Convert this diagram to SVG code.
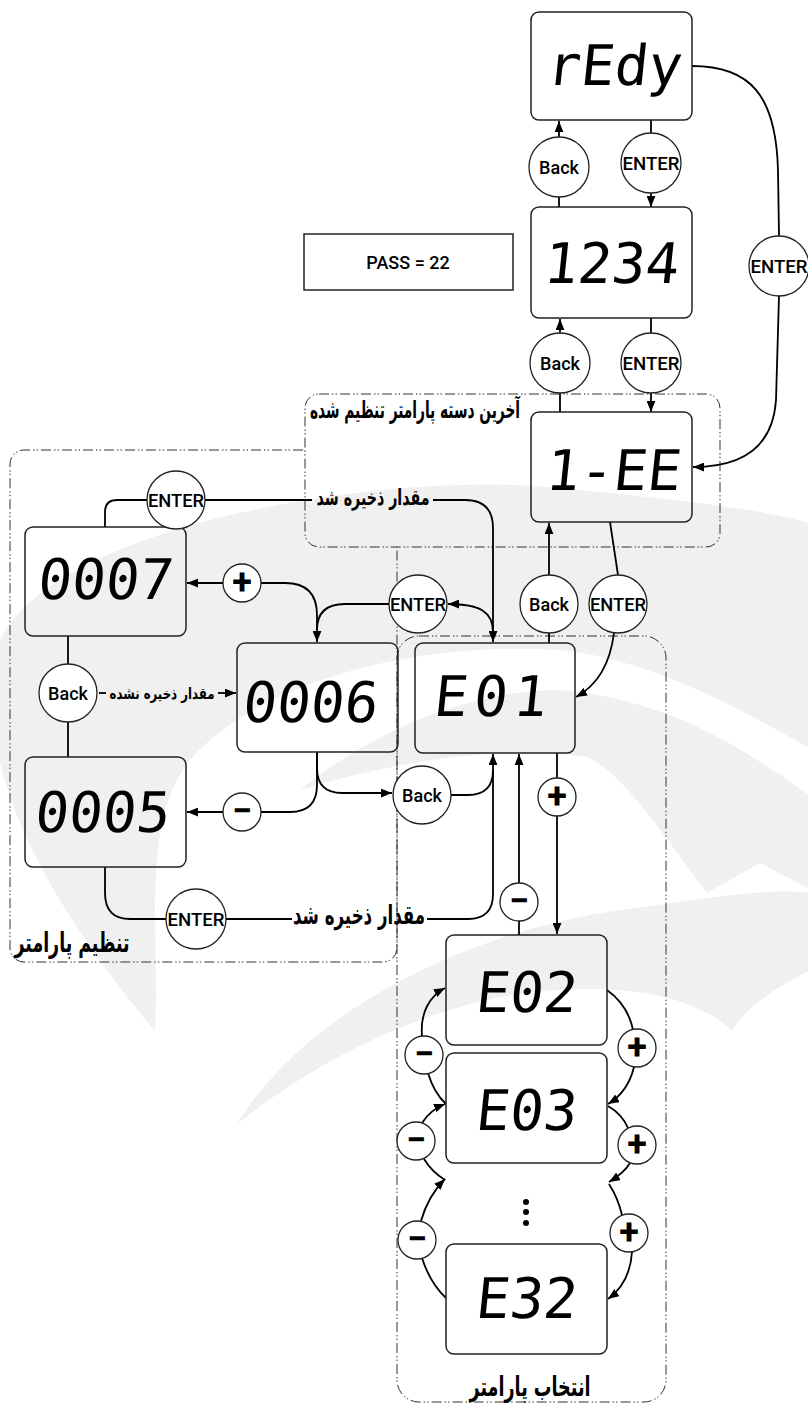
<svg xmlns="http://www.w3.org/2000/svg" width="808" height="1405" viewBox="0 0 808 1405">
<defs>
<style>
.box{fill:none;stroke:#222;stroke-width:1.5}
.btn{fill:#fff;stroke:#222;stroke-width:1.3}
.seg{font-family:"DejaVu Sans Mono",monospace;font-size:56px;fill:#000;text-anchor:middle}
.lbl{font-family:Roboto,"Liberation Sans",sans-serif;font-size:18px;font-weight:500;fill:#000;text-anchor:middle;dominant-baseline:central}
.pm{font-family:Roboto,"Liberation Sans",sans-serif;font-size:36px;font-weight:bold;fill:#000;text-anchor:middle;dominant-baseline:central}
.fa{font-family:"DejaVu Sans",sans-serif;font-weight:bold;fill:#000;text-anchor:middle}
.grp{fill:none;stroke:#333;stroke-width:1;stroke-dasharray:10 3 1.5 2 1.5 3}
.c{fill:none;stroke:#000;stroke-width:1.8}
.wm{fill:#f0f0f0}
</style>
<marker id="a" viewBox="0 0 10 8" refX="10" refY="4" markerWidth="11" markerHeight="9" markerUnits="userSpaceOnUse" orient="auto"><path d="M0,0 L10,4 L0,8 z" fill="#000"/></marker>
</defs>
<rect width="808" height="1405" fill="#fff"/>
<g id="watermark" class="wm">
<path d="M155 1031 C 80 940, -40 780, 0 640 C 60 520, 400 470, 560 488 C 680 500, 780 510, 830 530 L 830 760 C 760 720, 660 660, 560 650 C 400 640, 250 690, 190 760 C 140 820, 160 940, 155 1031 Z"/>
<path d="M300 790 C 400 710, 500 690, 560 690 C 680 700, 760 760, 830 810 L 830 900 L 760 863 L 707 893 C 660 830, 620 770, 587 757 C 500 745, 400 760, 300 790 Z"/>
<path d="M237 1124 C 300 1020, 450 935, 620 910 C 700 900, 800 880, 830 900 L 830 960 C 790 980, 750 1000, 732 1031 C 700 1000, 640 985, 560 990 C 450 995, 330 1050, 237 1124 Z"/>
</g>
<g id="groups">
<rect id="grp-last" class="grp" x="305" y="394" width="415" height="153" rx="14"/>
<text class="fa" x="415" y="418" font-size="24" textLength="210" lengthAdjust="spacingAndGlyphs">آخرین دسته پارامتر تنظیم شده</text>
<path id="grp-set" class="grp" d="M303 450 H24 A14 14 0 0 0 10 464 V948 A14 14 0 0 0 24 962 H383 A14 14 0 0 0 397 948 V547"/>
<text class="fa" x="72" y="952" font-size="27" textLength="115" lengthAdjust="spacingAndGlyphs">تنظیم پارامتر</text>
<rect id="grp-sel" class="grp" x="397" y="636" width="269" height="766" rx="22"/>
<text class="fa" x="530" y="1396" font-size="27" textLength="121" lengthAdjust="spacingAndGlyphs">انتخاب پارامتر</text>
</g>
<g id="connectors">
<path class="c" d="M559 137 V121" marker-end="url(#a)"/>
<path class="c" d="M559 197 V207"/>
<path class="c" d="M651 120 V133"/>
<path class="c" d="M651 193 V207" marker-end="url(#a)"/>
<path class="c" d="M560 333 V319" marker-end="url(#a)"/>
<path class="c" d="M560 393 V412"/>
<path class="c" d="M651 318 V333"/>
<path class="c" d="M651 393 V412" marker-end="url(#a)"/>
<path class="c" d="M692 66 C 750 66, 776 95, 778 170 L 779 236"/>
<path class="c" d="M779 296 L 776 400 C 773 445, 745 467, 693 467" marker-end="url(#a)"/>
<path class="c" d="M549 575 V523" marker-end="url(#a)"/>
<path class="c" d="M549 633 V643"/>
<path class="c" d="M610 522 Q 614 548, 618 575"/>
<path class="c" d="M614 633 C 610 665, 596 686, 576 697" marker-end="url(#a)"/>
<path class="c" d="M105 527 V512 Q105 500 117 500 H147"/>
<path class="c" d="M205 500 H312"/>
<path class="c" d="M433 500 H465 Q493 500 493 528 V642" marker-end="url(#a)"/>
<path class="c" d="M223 583 H187" marker-end="url(#a)"/>
<path class="c" d="M261 583 H285 Q317 583 317 615 V642" marker-end="url(#a)"/>
<path class="c" d="M493 632 C 493 612, 480 604, 448 604" marker-end="url(#a)"/>
<path class="c" d="M389 604 H345 Q317 604 317 630"/>
<path class="c" d="M68 636 V664"/>
<path class="c" d="M68 722 V757"/>
<path class="c" d="M99 693 H106"/>
<path class="c" d="M218 693 H236" marker-end="url(#a)"/>
<path class="c" d="M223 812 H187" marker-end="url(#a)"/>
<path class="c" d="M261 812 H290 Q317 812 317 785 V752"/>
<path class="c" d="M317 752 V768 Q317 793 342 793 H392" marker-end="url(#a)"/>
<path class="c" d="M451 795 H468 Q493 795 493 770 V754" marker-end="url(#a)"/>
<path class="c" d="M105 867 V893 Q105 919 130 919 H166"/>
<path class="c" d="M226 919 H292"/>
<path class="c" d="M427 919 H468 Q493 919 493 894 V770"/>
<path class="c" d="M519 883 V754" marker-end="url(#a)"/>
<path class="c" d="M519 921 V935"/>
<path class="c" d="M557 753 V778"/>
<path class="c" d="M557 816 V934" marker-end="url(#a)"/>
<path class="c" d="M422 1036 C 420 1012, 430 996, 445 988" marker-end="url(#a)"/>
<path class="c" d="M428 1073 Q 434 1093, 446 1104"/>
<path class="c" d="M422 1123 Q 430 1110, 445 1104" marker-end="url(#a)"/>
<path class="c" d="M424 1159 Q 432 1172, 445 1180"/>
<path class="c" d="M421 1221 Q 428 1196, 445 1179" marker-end="url(#a)"/>
<path class="c" d="M422 1258 Q 430 1283, 446 1298"/>
<path class="c" d="M607 990 Q 628 1005, 633 1030"/>
<path class="c" d="M634 1067 Q 628 1092, 608 1104" marker-end="url(#a)"/>
<path class="c" d="M608 1106 Q 622 1114, 628 1128"/>
<path class="c" d="M630 1163 Q 624 1173, 609 1182" marker-end="url(#a)"/>
<path class="c" d="M609 1184 Q 618 1198, 622 1215"/>
<path class="c" d="M632 1252 Q 630 1283, 608 1299" marker-end="url(#a)"/>
<text class="fa" x="373" y="505" font-size="22" textLength="113" lengthAdjust="spacingAndGlyphs">مقدار ذخیره شد</text>
<text class="fa" x="162" y="699" font-size="16" textLength="105" lengthAdjust="spacingAndGlyphs">مقدار ذخیره نشده</text>
<text class="fa" x="359" y="924" font-size="26" textLength="132" lengthAdjust="spacingAndGlyphs">مقدار ذخیره شد</text>
</g>
<g id="n-redy"><rect class="box" x="531" y="12" width="161" height="108" rx="8"/><text class="seg" transform="translate(613 85) skewX(-6)">rEdy</text></g>
<g id="n-1234"><rect class="box" x="531" y="207" width="161" height="111" rx="8"/><text class="seg" transform="translate(610 283) skewX(-6)">1234</text></g>
<g id="n-pass"><rect class="box" x="304" y="234" width="209" height="56"/><text class="lbl" x="408" y="262" font-size="17.5">PASS = 22</text></g>
<g id="n-1ee"><rect class="box" x="531" y="412" width="161" height="110" rx="8"/><text class="seg" transform="translate(612 490) skewX(-6)">1-EE</text></g>
<g id="n-0007"><rect class="box" x="25" y="527" width="161" height="109" rx="8"/><text class="seg" transform="translate(104 599) skewX(-6)">0007</text></g>
<g id="n-0006"><rect class="box" x="237" y="643" width="161" height="109" rx="8"/><text class="seg" transform="translate(309 722) skewX(-6)">0006</text></g>
<g id="n-0005"><rect class="box" x="25" y="757" width="161" height="110" rx="8"/><text class="seg" transform="translate(101 832) skewX(-6)">0005</text></g>
<g id="n-e01"><rect class="box" x="415" y="643" width="160" height="110" rx="8"/><text class="seg" transform="translate(492 716) skewX(-6)" letter-spacing="6">E01</text></g>
<g id="n-e02"><rect class="box" x="446" y="935" width="161" height="110" rx="8"/><text class="seg" transform="translate(525 1012) skewX(-6)">E02</text></g>
<g id="n-e03"><rect class="box" x="446" y="1053" width="161" height="110" rx="8"/><text class="seg" transform="translate(525 1130) skewX(-6)">E03</text></g>
<g id="n-dots"><circle cx="526" cy="1202" r="3"/><circle cx="526" cy="1212" r="3"/><circle cx="526" cy="1223" r="3"/></g>
<g id="n-e32"><rect class="box" x="446" y="1244" width="161" height="110" rx="8"/><text class="seg" transform="translate(525 1318) skewX(-6)">E32</text></g>
<g id="b-back1"><circle class="btn" cx="559" cy="167" r="30"/><text class="lbl" x="559" y="167">Back</text></g>
<g id="b-enter1"><circle class="btn" cx="651" cy="163" r="30"/><text class="lbl" x="651" y="163" textLength="57" lengthAdjust="spacingAndGlyphs">ENTER</text></g>
<g id="b-back2"><circle class="btn" cx="560" cy="363" r="30"/><text class="lbl" x="560" y="363">Back</text></g>
<g id="b-enter2"><circle class="btn" cx="651" cy="363" r="30"/><text class="lbl" x="651" y="363" textLength="57" lengthAdjust="spacingAndGlyphs">ENTER</text></g>
<g id="b-enter-r"><circle class="btn" cx="779" cy="266" r="30"/><text class="lbl" x="779" y="266" textLength="57" lengthAdjust="spacingAndGlyphs">ENTER</text></g>
<g id="b-back3"><circle class="btn" cx="549" cy="604" r="29"/><text class="lbl" x="549" y="604">Back</text></g>
<g id="b-enter3"><circle class="btn" cx="618" cy="604" r="29"/><text class="lbl" x="618" y="604" textLength="56" lengthAdjust="spacingAndGlyphs">ENTER</text></g>
<g id="b-enter4"><circle class="btn" cx="176" cy="500" r="29"/><text class="lbl" x="176" y="500" textLength="56" lengthAdjust="spacingAndGlyphs">ENTER</text></g>
<g id="b-plus1"><circle class="btn" cx="242" cy="583" r="19"/><text class="pm" x="242" y="582">+</text></g>
<g id="b-enter5"><circle class="btn" cx="418" cy="604" r="29"/><text class="lbl" x="418" y="604" textLength="56" lengthAdjust="spacingAndGlyphs">ENTER</text></g>
<g id="b-back4"><circle class="btn" cx="68" cy="693" r="29"/><text class="lbl" x="68" y="693">Back</text></g>
<g id="b-minus1"><circle class="btn" cx="242" cy="812" r="19"/><text class="pm" x="242" y="811">−</text></g>
<g id="b-back5"><circle class="btn" cx="422" cy="795" r="29"/><text class="lbl" x="422" y="795">Back</text></g>
<g id="b-enter6"><circle class="btn" cx="196" cy="919" r="30"/><text class="lbl" x="196" y="919" textLength="57" lengthAdjust="spacingAndGlyphs">ENTER</text></g>
<g id="b-minus2"><circle class="btn" cx="519" cy="902" r="19"/><text class="pm" x="519" y="901">−</text></g>
<g id="b-plus2"><circle class="btn" cx="557" cy="797" r="19"/><text class="pm" x="557" y="796">+</text></g>
<g id="b-minus3"><circle class="btn" cx="424" cy="1055" r="19"/><text class="pm" x="424" y="1054">−</text></g>
<g id="b-plus3"><circle class="btn" cx="637" cy="1048" r="19"/><text class="pm" x="637" y="1047">+</text></g>
<g id="b-minus4"><circle class="btn" cx="416" cy="1141" r="19"/><text class="pm" x="416" y="1140">−</text></g>
<g id="b-plus4"><circle class="btn" cx="637" cy="1145" r="19"/><text class="pm" x="637" y="1144">+</text></g>
<g id="b-minus5"><circle class="btn" cx="417" cy="1240" r="19"/><text class="pm" x="417" y="1239">−</text></g>
<g id="b-plus5"><circle class="btn" cx="629" cy="1233" r="19"/><text class="pm" x="629" y="1232">+</text></g>
</svg>
